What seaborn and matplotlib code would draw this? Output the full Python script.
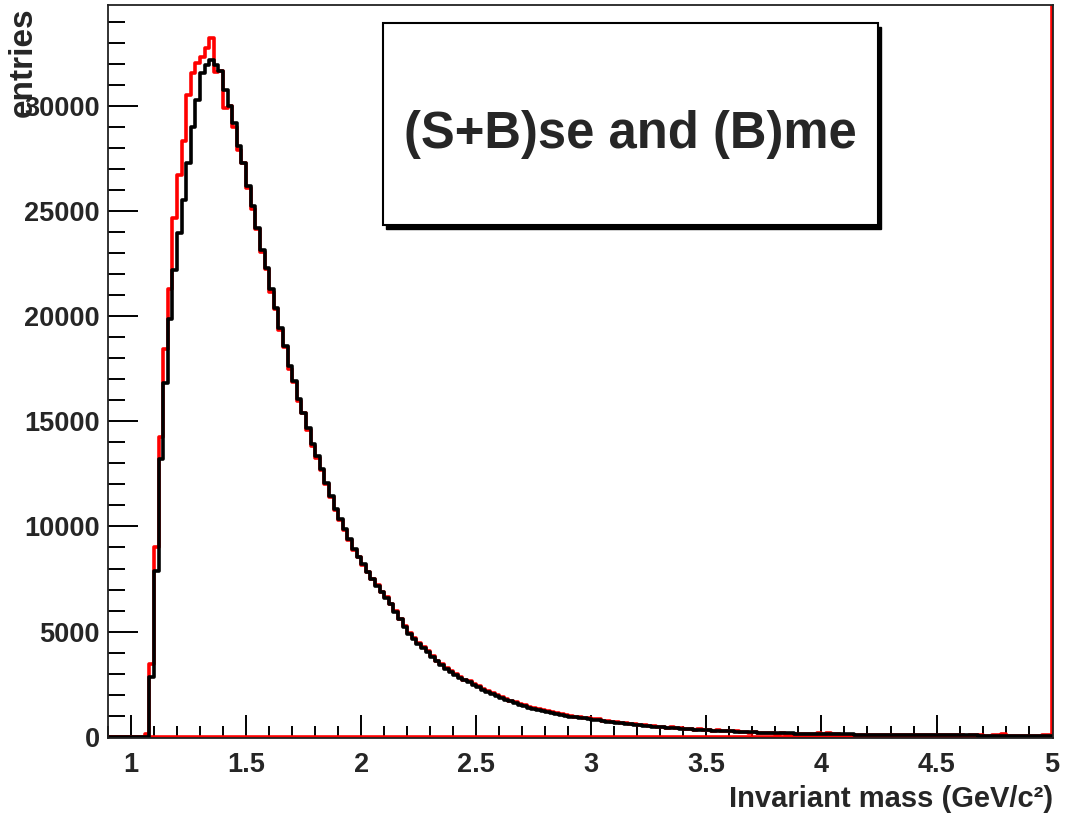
import numpy as np
import pandas as pd
import matplotlib
matplotlib.use("Agg")
import matplotlib.pyplot as plt
from matplotlib.patches import Rectangle
from matplotlib.ticker import MultipleLocator
import seaborn as sns

# ---------------- data ----------------
BIN_LO = 0.90          # GeV/c^2, lower edge of first bin
BIN_WIDTH = 0.02       # GeV/c^2

# (B)me : mixed-event background, black, bins starting 0.90, 0.92, ..., 4.98
mixed_event = [
    0, 0, 0, 0, 0, 0, 0, 0, 0, 2850,
    7900, 13200, 16840, 19850, 22220, 23960, 25540, 27290, 29020, 30290,
    31560, 31950, 32190, 31950, 31640, 30770, 29980, 29190, 28080, 27290,
    26180, 25230, 24200, 23170, 22300, 21270, 20400, 19450, 18580, 17630,
    16920, 16050, 15420, 14700, 13910, 13360, 12720, 12090, 11460, 10830,
    10350, 9880, 9400, 8930, 8560, 8200, 7850, 7500, 7180, 6880,
    6600, 6310, 5950, 5580, 5200, 4900, 4650, 4430, 4230, 4020,
    3800, 3580, 3400, 3240, 3080, 2920, 2780, 2680, 2590, 2470,
    2350, 2240, 2130, 2030, 1930, 1840, 1760, 1680, 1600, 1520,
    1450, 1390, 1340, 1290, 1240, 1190, 1140, 1100, 1050, 1000,
    960, 930, 900, 870, 840, 810, 780, 750, 720, 690,
    660, 635, 610, 585, 560, 540, 520, 500, 480, 460,
    440, 425, 410, 395, 380, 365, 350, 338, 326, 314,
    302, 290, 280, 270, 260, 250, 241, 232, 224, 216,
    208, 201, 194, 187, 180, 174, 168, 162, 157, 152,
    147, 142, 138, 134, 130, 126, 122, 119, 116, 113,
    110, 107, 104, 101, 99, 96, 94, 92, 90, 88,
    86, 84, 82, 80, 78, 76, 75, 73, 72, 70,
    69, 67, 66, 65, 63, 62, 61, 60, 59, 58,
    57, 56, 55, 54, 53, 52, 51, 50, 49, 48,
    47, 46, 45, 44, 43,
]

# (S+B)se : same-event signal+background, red, same bins plus one overflow bin at 5.00
same_event = [
    0, 0, 0, 0, 0, 0, 0, 0, 150, 3470,
    9020, 14240, 18420, 21270, 24680, 26730, 28310, 30530, 31560, 32030,
    32350, 32750, 33220, 31600, 31640, 29900, 29980, 29000, 27900, 27290,
    26100, 25100, 24150, 23050, 22250, 21150, 20350, 19350, 18550, 17500,
    16850, 15950, 15400, 14600, 13850, 13250, 12700, 12000, 11420, 10800,
    10300, 9850, 9350, 8900, 8550, 8180, 7850, 7520, 7200, 6900,
    6630, 6330, 5990, 5620, 5250, 4950, 4700, 4470, 4280, 4060,
    3850, 3620, 3450, 3280, 3130, 2960, 2830, 2720, 2640, 2510,
    2400, 2270, 2180, 2060, 1980, 1870, 1810, 1700, 1650, 1550,
    1500, 1410, 1390, 1320, 1290, 1210, 1190, 1120, 1100, 1020,
    1010, 950, 950, 890, 890, 830, 830, 770, 770, 710,
    700, 650, 650, 600, 600, 560, 560, 510, 510, 470,
    470, 430, 440, 400, 410, 370, 380, 340, 350, 320,
    330, 290, 300, 275, 280, 250, 280, 230, 235, 200,
    210, 180, 200, 160, 170, 150, 160, 140, 140, 120,
    140, 120, 130, 110, 160, 150, 155, 145, 150, 100,
    105, 100, 98, 95, 94, 92, 90, 88, 85, 84,
    82, 80, 78, 76, 74, 73, 71, 70, 68, 67,
    65, 64, 63, 62, 60, 59, 58, 100, 105, 60,
    58, 56, 100, 105, 110, 52, 50, 50, 48, 47,
    46, 45, 44, 100, 105,
    60000,   # overflow bin beyond 5.0
]

x_ticks = [1, 1.5, 2, 2.5, 3, 3.5, 4, 4.5, 5]
y_ticks = [0, 5000, 10000, 15000, 20000, 25000, 30000]
x_limits = (0.9, 5.006)
y_limits = (-60, 34800)
box_text = "(S+B)se and (B)me"
x_title = "Invariant mass (GeV/c\u00b2)"
y_title = "entries"

# ---------------- style ----------------
sns.set_style("ticks")
plt.rcParams["font.family"] = ["Liberation Sans", "DejaVu Sans"]
plt.rcParams["font.weight"] = "bold"

fig = plt.figure(figsize=(10.75, 8.15), dpi=100)
ax = fig.add_axes([108 / 1075, 1 - 738 / 815, 945 / 1075, 733 / 815])


def frame(values):
    n = len(values)
    edges = BIN_LO + BIN_WIDTH * np.arange(n + 1)
    centers = edges[:-1] + BIN_WIDTH / 2
    return pd.DataFrame({"mass": centers, "entries": values}), [float(e) for e in edges]


df_se, edges_se = frame(same_event)
df_me, edges_me = frame(mixed_event)

sns.histplot(data=df_se, x="mass", weights="entries", bins=edges_se,
             element="step", fill=True, alpha=0, color="#ff0000",
             linewidth=2.6, ax=ax)
sns.histplot(data=df_me, x="mass", weights="entries", bins=edges_me,
             element="step", fill=False, color="black",
             linewidth=2.6, ax=ax)

ax.set_xlim(*x_limits)
ax.set_ylim(*y_limits)

ax.set_xticks(x_ticks)
ax.set_xticklabels([f"{t:g}" for t in x_ticks])
ax.set_yticks(y_ticks)
ax.set_yticklabels([f"{t:d}" for t in y_ticks])
ax.xaxis.set_minor_locator(MultipleLocator(0.1))
ax.yaxis.set_minor_locator(MultipleLocator(1000))

ax.tick_params(axis="x", which="major", direction="in", length=16.5, width=1.4,
               color="black", labelsize=19.5, pad=10, top=False)
ax.tick_params(axis="x", which="minor", direction="in", length=8.6, width=1.4,
               color="black", top=False)
ax.tick_params(axis="y", which="major", direction="in", length=21.5, width=1.4,
               color="black", labelsize=19.5, pad=6, right=False)
ax.tick_params(axis="y", which="minor", direction="in", length=12, width=1.4,
               color="black", right=False)
for lab in ax.get_xticklabels() + ax.get_yticklabels():
    lab.set_fontweight("bold")

for sp in ax.spines.values():
    sp.set_visible(True)
    sp.set_linewidth(1.3)
    sp.set_color("#222222")

ax.set_xlabel(x_title, fontsize=21, fontweight="bold", loc="right")
ax.xaxis.set_label_coords(1.0, -0.064)
ax.set_ylabel(y_title, fontsize=24, fontweight="bold", loc="top")
ax.yaxis.set_label_coords(-0.073, 0.997)

# title box with drop shadow
bx, by, bw, bh = 0.291, 0.6997, 0.5235, 0.2753
dx, dy = 3.5 / 945, 3.5 / 733
ax.add_patch(Rectangle((bx + dx, by - dy), bw, bh, transform=ax.transAxes,
                       facecolor="black", edgecolor="black", lw=1.0, zorder=5))
ax.add_patch(Rectangle((bx, by), bw, bh, transform=ax.transAxes,
                       facecolor="white", edgecolor="black", lw=1.5, zorder=6))
ax.text(bx + bw / 2, 0.8048, box_text, transform=ax.transAxes,
        ha="center", va="baseline", fontsize=36.5, fontweight="bold", zorder=7)

fig.savefig("out.png", dpi=100)
